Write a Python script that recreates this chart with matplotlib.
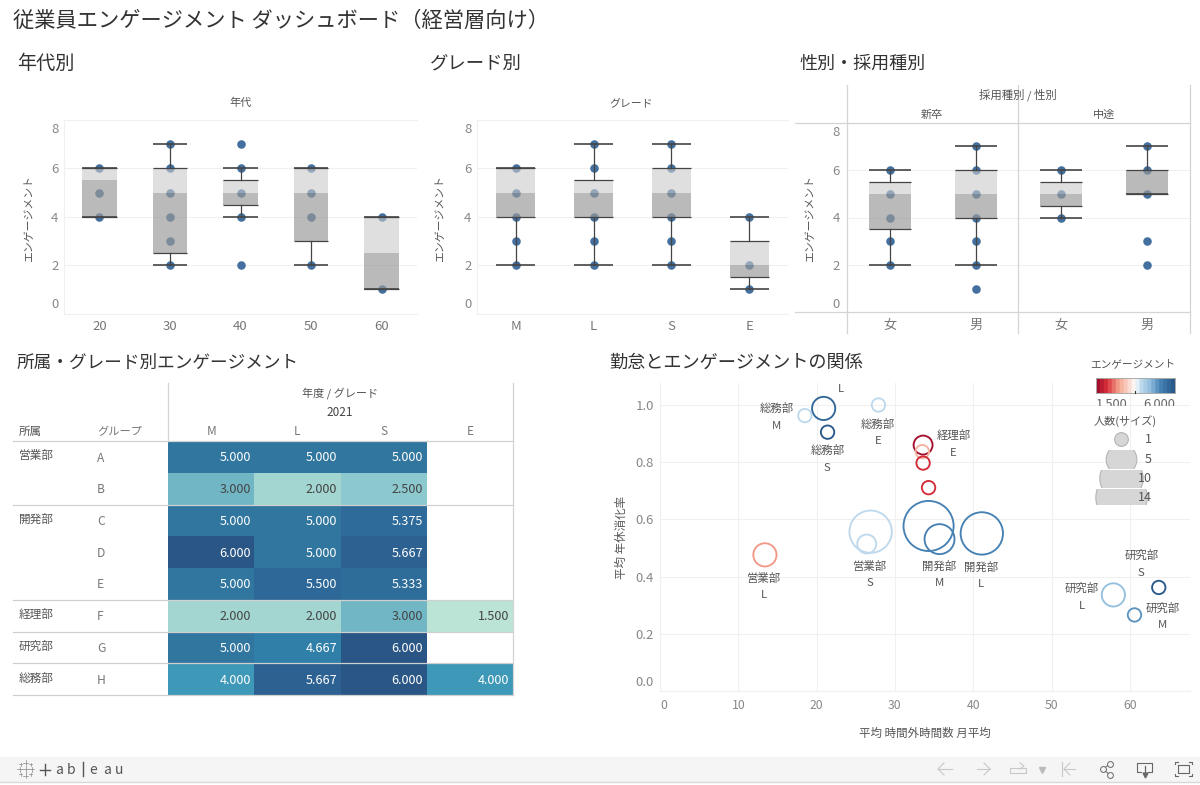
import numpy as np
import matplotlib
matplotlib.use("Agg")
import matplotlib.pyplot as plt
from matplotlib.colors import LinearSegmentedColormap, Normalize
from matplotlib.patches import Rectangle
from matplotlib.lines import Line2D
from matplotlib.transforms import ScaledTranslation

plt.rcParams['font.family'] = ['Noto Sans CJK JP', 'DejaVu Sans']

W, H = 1200, 785

# ---------- data ----------
age_cats = ['20', '30', '40', '50', '60']
age_points = [[4, 5, 6], [2, 3, 4, 5, 6, 7], [2, 4, 5, 6, 7], [2, 4, 5, 6], [1, 4]]
age_whisk_lo = [4, 2, 4, 2, 1]
age_q1 = [4, 2.5, 4.5, 3, 1]
age_med = [5.5, 5, 5, 5, 2.5]
age_q3 = [6, 6, 5.5, 6, 4]
age_whisk_hi = [6, 7, 6, 6, 4]

grade_cats = ['M', 'L', 'S', 'E']
grade_points = [[2, 3, 4, 5, 6], [2, 3, 4, 5, 6, 7], [2, 3, 4, 5, 6, 7], [1, 2, 4]]
grade_whisk_lo = [2, 2, 2, 1]
grade_q1 = [4, 4, 4, 1.5]
grade_med = [5, 5, 5, 2]
grade_q3 = [6, 5.5, 6, 3]
grade_whisk_hi = [6, 7, 7, 4]

gender_cats = ['女', '男', '女', '男']
gender_points = [[2, 3, 4, 5, 6], [1, 2, 3, 4, 5, 6, 7], [4, 5, 6], [2, 3, 5, 6, 7]]
gender_whisk_lo = [2, 2, 4, 5]
gender_q1 = [3.5, 4, 4.5, 5]
gender_med = [5, 5, 5, 6]
gender_q3 = [5.5, 6, 5.5, 6]
gender_whisk_hi = [6, 7, 6, 7]

heat_depts = ['営業部', '', '開発部', '', '', '経理部', '研究部', '総務部']
heat_groups = ['A', 'B', 'C', 'D', 'E', 'F', 'G', 'H']
heat_cols = ['M', 'L', 'S', 'E']
heat_M = [5.0, 3.0, 5.0, 6.0, 5.0, 2.0, 5.0, 4.0]
heat_L = [5.0, 2.0, 5.0, 5.0, 5.5, 2.0, 4.667, 5.667]
heat_S = [5.0, 2.5, 5.375, 5.667, 5.333, 3.0, 6.0, 6.0]
heat_E = [np.nan, np.nan, np.nan, np.nan, np.nan, 1.5, np.nan, 4.0]

sc_overtime = [20.9, 18.5, 21.4, 27.9, 13.4, 26.9, 26.4, 34.3, 35.7, 41.1, 33.6, 33.5, 33.6, 34.3, 57.9, 60.6, 63.7]
sc_leave = [0.988, 0.963, 0.905, 1.0, 0.476, 0.557, 0.514, 0.577, 0.531, 0.551, 0.86, 0.837, 0.797, 0.711, 0.336, 0.266, 0.362]
sc_people = [3, 1, 1, 1, 3, 10, 2, 14, 5, 10, 2, 1, 1, 1, 3, 1, 1]
sc_engage = [5.667, 4.0, 6.0, 4.0, 2.8, 4.0, 4.0, 5.3, 5.3, 5.2, 1.5, 3.0, 2.0, 2.0, 4.5, 5.0, 6.0]

legend_people = [1, 5, 10, 14]

# ---------- helpers ----------
fig = plt.figure(figsize=(W / 100, H / 100), dpi=100, facecolor='white')

def fx(px):
    return px / W

def fy(py):
    return 1 - py / H

def add_ax(x0, y0, x1, y1):
    return fig.add_axes([fx(x0), fy(y1), (x1 - x0) / W, (y1 - y0) / H])

def txt(px, py, s, size=8, color='#555555', ha='center', va='center', **kw):
    return fig.text(fx(px), fy(py), s, fontsize=size, color=color, ha=ha, va=va, **kw)

def seg(xs, ys, color='#d4d4d4', lw=0.9, **kw):
    fig.add_artist(Line2D([fx(x) for x in xs], [fy(y) for y in ys], color=color, lw=lw, **kw))

def hline(y, x0, x1, color='#d4d4d4', lw=0.9):
    seg([x0, x1], [y, y], color, lw)

def vline(x, y0, y1, color='#d4d4d4', lw=0.9):
    seg([x, x], [y0, y1], color, lw)

DOT = '#44709f'
LIGHT = '#cbcbcb'
DARK = '#999999'
INK = '#444444'

def shift_label(lab, dy_px):
    lab.set_transform(lab.get_transform() + ScaledTranslation(0, dy_px / 100, fig.dpi_scale_trans))

def boxes(ax, cats, pts, lo, q1, med, q3, hi, width, ypad):
    xs = np.arange(len(cats))
    for i in xs:
        ax.scatter([i] * len(pts[i]), pts[i], s=38, color=DOT, linewidths=0, zorder=2)
        ax.bar(i, q3[i] - med[i], bottom=med[i], width=width, color=LIGHT, alpha=0.6, zorder=3, linewidth=0)
        ax.bar(i, med[i] - q1[i], bottom=q1[i], width=width, color=DARK, alpha=0.67, zorder=3, linewidth=0)
        ax.plot([i, i], [lo[i], q1[i]], color=INK, lw=0.9, zorder=4)
        ax.plot([i, i], [q3[i], hi[i]], color=INK, lw=0.9, zorder=4)
        for v, lw in ((lo[i], 1.2), (hi[i], 1.2), (q1[i], 0.9), (q3[i], 0.9)):
            ax.plot([i - width / 2, i + width / 2], [v, v], color=INK, lw=lw, zorder=4, solid_capstyle='butt')
    ax.set_xlim(-0.5, len(cats) - 0.5)
    ax.set_ylim(0, 8)
    ax.set_yticks([0, 2, 4, 6, 8])
    ax.set_yticklabels(['0', '2', '4', '6', '8'], fontsize=9.5, color='#888888')
    ax.set_xticks(xs)
    ax.set_xticklabels(cats, fontsize=9.5, color='#777777')
    ax.tick_params(length=0)
    ax.tick_params(axis='y', pad=ypad)
    ax.tick_params(axis='x', pad=4.5)
    labs = ax.get_yticklabels()
    labs[0].set_va('bottom')
    labs[-1].set_va('top')
    shift_label(labs[0], 2)
    shift_label(labs[-1], -3)
    ax.grid(axis='y', color='#f0f0f0', lw=0.8)
    ax.set_axisbelow(True)
    for s in ax.spines.values():
        s.set_visible(False)

# ---------- titles ----------
txt(13, 20.5, '従業員エンゲージメント ダッシュボード（経営層向け）', size=15.3, color='#333333', ha='left')
txt(17, 63.5, '年代別', size=13.8, color='#333333', ha='left')
txt(430, 63.5, 'グレード別', size=13.2, color='#333333', ha='left')
txt(799, 63.5, '性別・採用種別', size=13, color='#333333', ha='left')
txt(17, 362.5, '所属・グレード別エンゲージメント', size=12.7, color='#333333', ha='left')
txt(609, 362.5, '勤怠とエンゲージメントの関係', size=13.1, color='#333333', ha='left')

# ---------- box panels ----------
a1 = add_ax(64, 120, 417, 313.5)
boxes(a1, age_cats, age_points, age_whisk_lo, age_q1, age_med, age_q3, age_whisk_hi, 0.49, 4)
for s in ('left', 'bottom', 'top'):
    a1.spines[s].set_visible(True)
    a1.spines[s].set_color('#f0f0f0')
txt(29, 218, 'エンゲージメント', size=7.8, rotation=90)
txt(241, 103, '年代', size=8)

a2 = add_ax(477, 120, 788, 313.5)
boxes(a2, grade_cats, grade_points, grade_whisk_lo, grade_q1, grade_med, grade_q3, grade_whisk_hi, 0.5, 4)
for s in ('left', 'bottom', 'top'):
    a2.spines[s].set_visible(True)
    a2.spines[s].set_color('#f0f0f0')
txt(440, 218, 'エンゲージメント', size=7.8, rotation=90)
txt(631, 103, 'グレード', size=7.8)

a3 = add_ax(847, 122.5, 1190, 312.5)
boxes(a3, gender_cats, gender_points, gender_whisk_lo, gender_q1, gender_med, gender_q3, gender_whisk_hi, 0.49, 5)
txt(810, 218, 'エンゲージメント', size=7.8, rotation=90)
hline(123, 795, 1190)
hline(312, 795, 1190)
for x in (847, 1018, 1190):
    vline(x, 85, 333)
txt(1018, 94.5, '採用種別 / 性別', size=8.2)
txt(932, 114.5, '新卒', size=8)
txt(1104, 114.5, '中途', size=8)

# ---------- heat table ----------
heat_cmap = LinearSegmentedColormap.from_list(
    'tealblue',
    [(0.0, '#bbe3d6'), (0.111, '#a3d6d0'), (0.222, '#8bc9cf'), (0.333, '#70b6c4'),
     (0.556, '#3e98b7'), (0.704, '#2f7fa8'), (0.778, '#31769f'), (0.889, '#2d6898'), (1.0, '#2a5685')])
heat = np.array([heat_M, heat_L, heat_S, heat_E]).T
ah = add_ax(168, 441, 513, 695)
ah.pcolormesh(np.arange(5), np.arange(9), heat, cmap=heat_cmap, vmin=1.5, vmax=6)
ah.set_xlim(0, 4)
ah.set_ylim(8, 0)
ah.axis('off')
for r in range(8):
    for c in range(4):
        v = heat[r, c]
        if not np.isnan(v):
            ah.annotate(f'{v:.3f}', (c + 1, r + 0.5), xytext=(-3.5, -1), textcoords='offset pixels',
                        ha='right', va='center', fontsize=9.1,
                        color='white' if v >= 4 else '#444444')
row_px = 441 + (695 - 441) / 8 * np.arange(9)
for r in range(8):
    txt(97, row_px[r] + 17, heat_groups[r], size=8.7, color='#777777', ha='left')
    if heat_depts[r]:
        txt(19, row_px[r] + 15, heat_depts[r], size=8.4, color='#555555', ha='left')
for r in (0, 2, 5, 6, 7, 8):
    hline(row_px[r], 13, 513, color='#d0d0d0', lw=0.9)
vline(168, 383, 441)
vline(513, 383, 695)
txt(340, 393.5, '年度 / グレード', size=8)
txt(340, 412.5, '2021', size=8.5, color='#444444')
for i, c in enumerate(heat_cols):
    txt(168 + 86.25 * (i + 0.5), 431.5, c, size=8.5, color='#777777')
txt(19, 431.5, '所属', size=8.3, ha='left')
txt(97, 431.5, 'グループ', size=8.1, color='#777777', ha='left')

# ---------- scatter ----------
eng_cmap = LinearSegmentedColormap.from_list(
    'eng',
    [(0.0, '#a50f2d'), (0.12, '#d92f3a'), (0.28, '#f4a58f'), (0.42, '#fbdcd2'), (0.5, '#ffffff'),
     (0.56, '#c5def0'), (0.7, '#8fbcdc'), (0.82, '#4a86b8'), (1.0, '#2a5a8c')], N=20)
eng_norm = Normalize(1.5, 6)
SIZE = 93
asc = add_ax(660, 383, 1190, 691)
asc.scatter(sc_overtime, sc_leave, s=np.array(sc_people) * SIZE, facecolors='none',
            edgecolors=eng_cmap(eng_norm(sc_engage)), linewidths=1.35, zorder=3)
asc.set_xlim(0, 530 / 7.83)
asc.set_ylim(0, 308 / 286)
asc.set_xticks([0, 10, 20, 30, 40, 50, 60])
asc.set_xticklabels(['0', '10', '20', '30', '40', '50', '60'], fontsize=8.8, color='#888888')
asc.set_yticks([0, 0.2, 0.4, 0.6, 0.8, 1.0])
asc.set_yticklabels(['0.0', '0.2', '0.4', '0.6', '0.8', '1.0'], fontsize=9.5, color='#888888')
asc.tick_params(length=0)
asc.tick_params(axis='y', pad=4.5)
asc.tick_params(axis='x', pad=5.5)
asc.get_xticklabels()[0].set_ha('left')
asc.get_yticklabels()[0].set_va('bottom')
shift_label(asc.get_yticklabels()[0], 2)
asc.grid(color='#f0f0f0', lw=0.8)
asc.set_axisbelow(True)
for s in ('top', 'right'):
    asc.spines[s].set_visible(False)
for s in ('left', 'bottom'):
    asc.spines[s].set_color('#f0f0f0')
txt(925, 733, '平均 時間外時間数 月平均', size=8.3)
txt(621, 537, '平均 年休消化率', size=8.3, rotation=90)

scatter_labels = [
    ('総務部', 'M', 776.7, 408.3, 426),
    ('総務部', 'S', 827.3, 450.7, 468),
    ('総務部', 'E', 877.7, 424.3, 441.3),
    ('', 'L', 841, 0, 388.7),
    ('営業部', 'L', 764.3, 578.3, 595.3),
    ('営業部', 'S', 870, 566, 583.3),
    ('経理部', 'E', 953.3, 435.7, 452.7),
    ('開発部', 'M', 939, 566, 583.3),
    ('開発部', 'L', 981.3, 567, 584.3),
    ('研究部', 'L', 1081.7, 588.3, 605.7),
    ('研究部', 'S', 1141.3, 555.7, 573),
    ('研究部', 'M', 1162.7, 608, 625.3),
]
for name, g, x, y1, y2 in scatter_labels:
    if name:
        txt(x, y1, name, size=8.2, color='#555555')
    txt(x, y2, g, size=8.2, color='#555555')

# ---------- legends ----------
txt(1133, 364, 'エンゲージメント', size=7.7)
al = add_ax(1096, 378, 1175, 393)
al.imshow(np.linspace(0, 1, 200).reshape(1, -1), aspect='auto', cmap=eng_cmap, extent=[1.5, 6, 0, 1])
al.set_xticks([])
al.set_yticks([])
for s in al.spines.values():
    s.set_color('#aaaaaa')
    s.set_linewidth(0.7)
vline(1135, 391, 393, color='#333333', lw=0.8)
clip = Rectangle((1090, H - 405.5), 100, 12, transform=None)
for x, s in ((1096, '1.500'), (1175, '6.000')):
    t = txt(x, 404.5, s, size=9.2, color='#666666', ha='left' if x < 1100 else 'right')
    t.set_clip_path(clip)
    t.set_clip_on(True)

txt(1125, 421, '人数(サイズ)', size=8)
rows = [(439, 430, 449), (458.7, 449.5, 467.5), (477.7, 469.5, 487), (496.7, 489, 503.5)]
leg = add_ax(1090, 430, 1160, 504)
leg.set_xlim(1090, 1160)
leg.set_ylim(504, 430)
leg.axis('off')
for n, (yc, y0, y1) in zip(legend_people, rows):
    p = leg.scatter([1121], [yc], s=n * SIZE * 1.05, facecolor='#d6d6d6', edgecolor='#b5b5b5', linewidth=0.8, zorder=2)
    p.set_clip_path(Rectangle((1090, y0), 70, y1 - y0, transform=leg.transData))
    txt(1152, yc + 0.5, str(n), size=9, color='#555555', ha='right', zorder=5)

# ---------- footer ----------
fig.add_artist(Rectangle((0, fy(782)), 1, (782 - 757) / H, transform=fig.transFigure, facecolor='#f5f5f5', edgecolor='none'))
hline(782, 0, 1200, color='#d8d8d8', lw=1.0)

# logo mark: small plus signs
for cx, cy, a in [(25.5, 769, 3.5), (25.5, 762.5, 2.5), (25.5, 775.5, 2.5), (19.5, 769, 2.5), (31.5, 769, 2.5),
                  (20.5, 764, 1.5), (30.5, 764, 1.5), (20.5, 774, 1.5), (30.5, 774, 1.5)]:
    seg([cx - a, cx + a], [cy, cy], '#888888', 0.5)
    seg([cx, cx], [cy - a, cy + a], '#888888', 0.5)
seg([40, 50], [769.5, 769.5], '#555555', 1.0)
seg([45, 45], [764, 775], '#555555', 1.0)
for x, s in ((59.5, 'a'), (71.5, 'b'), (93, 'e'), (107, 'a'), (119, 'u')):
    txt(x, 770.5, s, size=10, color='#555555')
seg([82.5, 82.5], [762, 776], '#555555', 1.0)

GREY = '#c8c8c8'
FOOT = '#666666'
# back / forward
seg([938, 952], [769, 769], GREY, 0.8)
seg([944, 938, 944], [763, 769, 775], GREY, 0.8)
seg([977, 990], [769, 769], GREY, 0.8)
seg([984, 990, 984], [763, 769, 775], GREY, 0.8)
# redo
seg([1010, 1026, 1026, 1010, 1010], [768, 768, 773, 773, 768], GREY, 0.8)
seg([1020, 1024, 1020], [763, 766, 769], GREY, 0.8)
fig.add_artist(Line2D([fx(1042)], [fy(769.5)], marker='v', markersize=4, color='#bbbbbb', lw=0))
# revert
seg([1062, 1062], [762, 776], GREY, 0.8)
seg([1064, 1075], [769, 769], GREY, 0.8)
seg([1070, 1064, 1070], [763, 769, 775], GREY, 0.8)
# share
seg([1110, 1103, 1110], [764, 769, 775], FOOT, 0.7)
for cx, cy in ((1110, 764), (1103, 769), (1110, 775)):
    fig.add_artist(Line2D([fx(cx)], [fy(cy)], marker='o', markersize=4.2, markerfacecolor='#f5f5f5',
                          markeredgecolor=FOOT, markeredgewidth=0.7, lw=0))
# download
seg([1141, 1137, 1137, 1152, 1152, 1148], [772, 772, 763, 763, 772, 772], FOOT, 0.8)
seg([1144.5, 1144.5], [766, 775], FOOT, 0.9)
fig.add_artist(Line2D([fx(1144.5)], [fy(775)], marker='v', markersize=3.5, color=FOOT, lw=0))
# full screen
seg([1178, 1189, 1189, 1178, 1178], [765, 765, 773, 773, 765], FOOT, 0.8)
for sx, sy in ((1175, 762), (1192, 762), (1175, 776), (1192, 776)):
    dx = 3 if sx < 1180 else -3
    dy = 2 if sy < 770 else -2
    seg([sx + dx, sx, sx], [sy, sy, sy + dy], FOOT, 0.8)

fig.savefig('out.png', dpi=100)
